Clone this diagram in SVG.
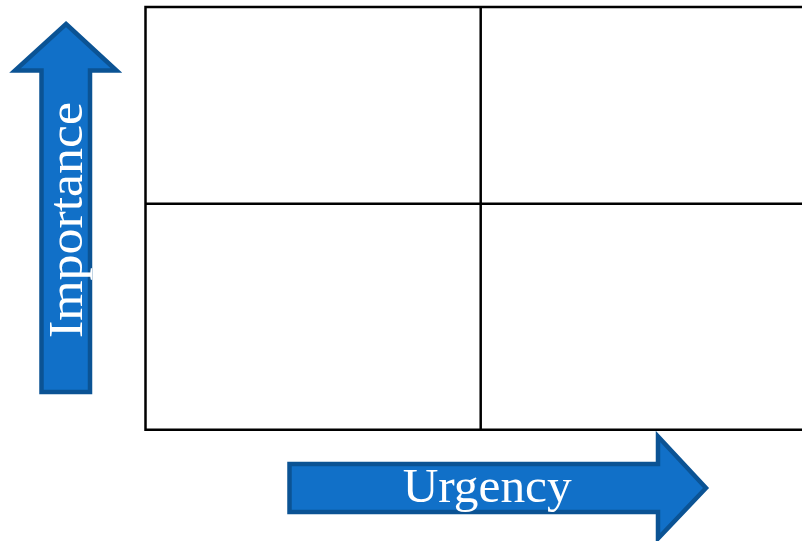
<svg xmlns="http://www.w3.org/2000/svg" width="802" height="541" viewBox="0 0 802 541">
  <style>
    .grid { fill: none; stroke: #000; stroke-width: 2.5; }
    .arrow { fill: #1170c8; stroke: #0b5394; stroke-width: 4.5; stroke-linejoin: miter; }
    .label { fill: #ffffff; font-family: "Liberation Serif", "Times New Roman", serif; font-size: 48px; }
  </style>
  <rect width="802" height="541" fill="#ffffff"/>

  <!-- 2x2 matrix -->
  <g id="matrix">
    <path class="grid" d="M 810 7 H 145.5 V 429.8 H 810"/>
    <line class="grid" x1="480.7" y1="7" x2="480.7" y2="429.8"/>
    <line class="grid" x1="145.5" y1="203.7" x2="810" y2="203.7"/>
  </g>

  <!-- vertical axis arrow -->
  <g id="importance">
    <path class="arrow" d="M 66 24 L 116.5 70.5 L 90 70.5 L 90 392 L 41.5 392 L 41.5 70.5 L 15 70.5 Z"/>
    <text class="label" transform="translate(82,338) rotate(-90)" x="0" y="0" textLength="236" lengthAdjust="spacingAndGlyphs">Importance</text>
  </g>

  <!-- horizontal axis arrow -->
  <g id="urgency">
    <path class="arrow" d="M 706 488 L 658 538.5 L 658 512 L 289.5 512 L 289.5 464 L 658 464 L 658 436.5 Z"/>
    <text class="label" x="402.7" y="501.7" textLength="169" lengthAdjust="spacingAndGlyphs">Urgency</text>
  </g>
</svg>
